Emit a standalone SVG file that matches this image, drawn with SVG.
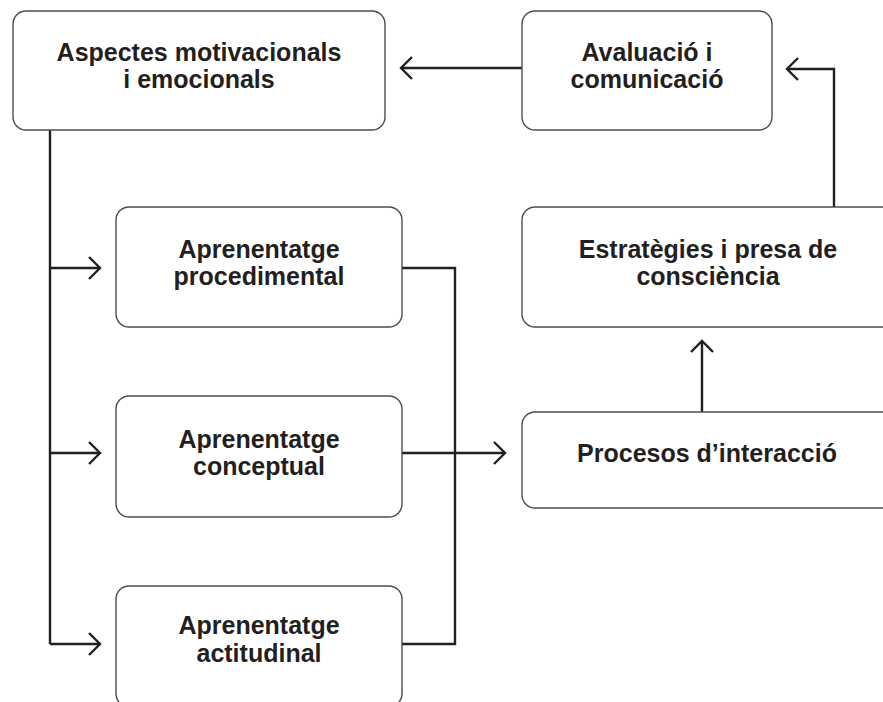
<svg xmlns="http://www.w3.org/2000/svg" width="883" height="702" viewBox="0 0 883 702">
  <style>
    .box { fill: #ffffff; stroke: #4d4d4d; stroke-width: 1.4; }
    .lbl { font-family: "Liberation Sans", Arial, sans-serif; font-weight: bold; font-size: 25px; fill: #231f20; text-anchor: middle; }
    .wire { fill: none; stroke: #231f20; stroke-width: 2.4; }
  </style>
  <defs>
    <marker id="chev" viewBox="-14 -13 16 26" markerWidth="16" markerHeight="26" refX="0" refY="0" orient="auto" markerUnits="userSpaceOnUse">
      <path d="M-11,-11 L0,0 L-11,11" fill="none" stroke="#231f20" stroke-width="2.4"/>
    </marker>
  </defs>
  <rect width="883" height="702" fill="#ffffff"/>

  <g id="connectors">
    <path class="wire" d="M522 68 H401" marker-end="url(#chev)"/>
    <path class="wire" d="M834 207 V69 H787" marker-end="url(#chev)"/>
    <path class="wire" d="M50 130 V644"/>
    <path class="wire" d="M50 268 H100" marker-end="url(#chev)"/>
    <path class="wire" d="M50 453 H100" marker-end="url(#chev)"/>
    <path class="wire" d="M50 644 H100" marker-end="url(#chev)"/>
    <path class="wire" d="M402 268 H455 V644 H402"/>
    <path class="wire" d="M402 453 H505" marker-end="url(#chev)"/>
    <path class="wire" d="M702 412 V341" marker-end="url(#chev)"/>
  </g>

  <g id="aspectes">
    <rect class="box" x="13" y="11" width="372" height="119" rx="13"/>
    <text class="lbl" x="199" y="61">Aspectes motivacionals</text>
    <text class="lbl" x="199" y="88">i emocionals</text>
  </g>

  <g id="avaluacio">
    <rect class="box" x="522" y="11" width="250" height="119" rx="13"/>
    <text class="lbl" x="647" y="61">Avaluació i</text>
    <text class="lbl" x="647" y="88">comunicació</text>
  </g>

  <g id="procedimental">
    <rect class="box" x="116" y="207" width="286" height="120" rx="13"/>
    <text class="lbl" x="259" y="258">Aprenentatge</text>
    <text class="lbl" x="259" y="285">procedimental</text>
  </g>

  <g id="conceptual">
    <rect class="box" x="116" y="396" width="286" height="121" rx="13"/>
    <text class="lbl" x="259" y="448">Aprenentatge</text>
    <text class="lbl" x="259" y="475">conceptual</text>
  </g>

  <g id="actitudinal">
    <rect class="box" x="116" y="586" width="286" height="121" rx="13"/>
    <text class="lbl" x="259" y="634">Aprenentatge</text>
    <text class="lbl" x="259" y="662">actitudinal</text>
  </g>

  <g id="estrategies">
    <rect class="box" x="522" y="207" width="380" height="120" rx="13"/>
    <text class="lbl" x="708" y="258">Estratègies i presa de</text>
    <text class="lbl" x="708" y="285">consciència</text>
  </g>

  <g id="procesos">
    <rect class="box" x="522" y="412" width="380" height="96" rx="13"/>
    <text class="lbl" x="707" y="462">Procesos d’interacció</text>
  </g>
</svg>
